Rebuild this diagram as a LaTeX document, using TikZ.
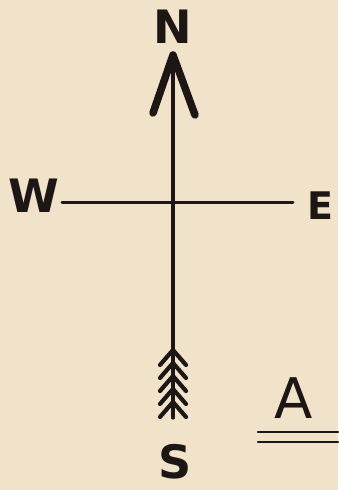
\documentclass[tikz,border=0pt]{standalone}
\usepackage{fontspec}
\setsansfont{DejaVu Sans}
\definecolor{paper}{RGB}{241,227,202}
\definecolor{ink}{RGB}{28,22,20}
\tikzset{
  letter/.style={font=\sffamily\bfseries\fontsize{46}{46}\selectfont, inner sep=0pt},
  feather/.style={line width=4.2pt}
}

\begin{document}
\begin{tikzpicture}[x=1pt, y=1pt, line join=round, line cap=round, ink]
\fill[paper] (0,0) rectangle (338,490);
\useasboundingbox (0,0) rectangle (338,490);
\coordinate (T) at (173,435);
\coordinate (B) at (173,72);
\coordinate (HL) at (153,377);
\coordinate (HR) at (195,375);
\coordinate (L) at (62,287);
\coordinate (R) at (293,287);
\coordinate (U1) at (258,58);
\coordinate (U2) at (338,58);
\coordinate (U3) at (258,48);
\coordinate (U4) at (338,48);
\draw[line width=3.2pt] (T) -- (B);
\draw[line width=3pt] (L) -- (R);
\draw[line width=7.5pt] (HL) -- (T) -- (HR);
\foreach \y in {140,127,114,101,88}
  \draw[feather] (160,\y-15) -- (173,\y) -- (186,\y-15);
\draw[line width=2.4pt] (U1) -- (U2);
\draw[line width=2.4pt] (U3) -- (U4);
\node[letter] (N) at (173,463) {N};
\node[letter] (W) at (34,294) {W};
\node[letter, font=\sffamily\bfseries\fontsize{38}{38}\selectfont] (E) at (320,284) {E};
\node[letter] (S) at (175,28) {S};
\node[font=\sffamily\fontsize{56}{56}\selectfont, inner sep=0pt, anchor=base] (A) at (294,71) {A};
\end{tikzpicture}
\end{document}
